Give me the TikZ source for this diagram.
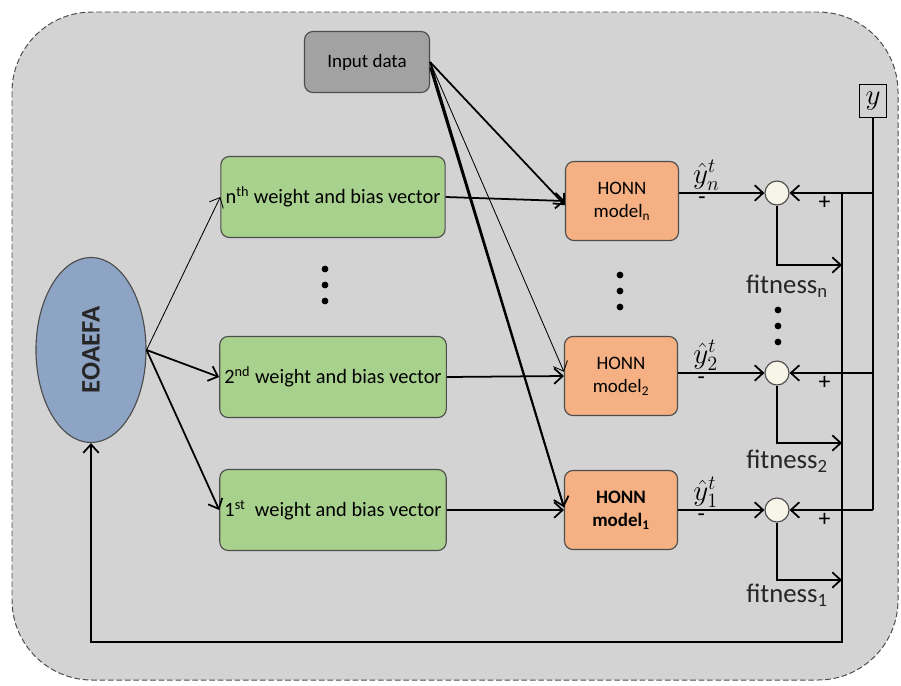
\documentclass[tikz,border=0pt]{standalone}
\usepackage{amsmath,amssymb}
\usepackage{xcolor}
\usepackage{fontspec}
\setmainfont{Carlito}
\usepackage{tikz}
\usetikzlibrary{shapes.geometric,arrows.meta}

\definecolor{panelgray}{RGB}{212,211,212}
\definecolor{boxgreen}{RGB}{169,209,142}
\definecolor{honnorange}{RGB}{245,177,131}
\definecolor{inputgray}{RGB}{162,162,162}
\definecolor{eoblue}{RGB}{142,164,196}
\definecolor{sumwhite}{RGB}{246,245,232}

\tikzset{
  wbox/.style={draw=black!70, line width=0.8pt, rounded corners=6pt, fill=boxgreen,
    minimum width=5.575cm, minimum height=2.025cm, font=\fontsize{14.5}{17}\selectfont},
  honnbox/.style={draw=black!70, line width=0.8pt, rounded corners=6pt, fill=honnorange,
    minimum width=2.825cm, minimum height=1.975cm, align=center,
    font=\fontsize{13.5}{16.5}\selectfont},
  sumnode/.style={circle, draw=black!70, line width=0.8pt, fill=sumwhite,
    minimum size=0.6cm, inner sep=0pt},
  thickarr/.style={-{Straight Barb[length=6pt,width=11pt]}, line width=1.25pt},
  thinarr/.style={-{Straight Barb[length=6pt,width=11pt]}, line width=0.6pt},
  bus/.style={line width=1.25pt},
  fitlabel/.style={font=\fontsize{19}{22}\selectfont, text=black!85},
  signlabel/.style={font=\fontsize{17}{19}\selectfont, inner sep=1pt},
  yhat/.style={font=\fontsize{21}{24}\selectfont, inner sep=1pt}
}

\begin{document}
\begin{tikzpicture}[x=0.025cm, y=-0.025cm]
  \useasboundingbox (0,0) rectangle (901,685);
  % panel
  \draw[dash pattern=on 4pt off 2pt, draw=black!70, line width=0.7pt, fill=panelgray,
    rounded corners=2cm] (12,12) rectangle (898,680);

  % nodes
  \node[ellipse, draw=black!70, line width=0.8pt, fill=eoblue, minimum width=2.75cm,
    minimum height=4.625cm, inner sep=0pt] (eo) at (91,350)
    {\rotatebox{90}{\fontsize{19}{22}\selectfont\bfseries\color{black!85}EOAEFA}};
  \node[draw=black!70, line width=0.8pt, rounded corners=6pt, fill=inputgray,
    minimum width=3.125cm, minimum height=1.525cm, font=\fontsize{13.5}{16}\selectfont]
    (inp) at (367,62) {Input data};

  \node[wbox] (wn) at (333,197) {n\textsuperscript{th} weight and bias vector};
  \node[wbox] (w2) at (333,377) {2\textsuperscript{nd} weight and bias vector};
  \node[wbox] (w1) at (333,510) {1\textsuperscript{st}\ \ weight and bias vector};

  \node[honnbox] (hn) at (622,201) {HONN\\model\textsubscript{n}};
  \node[honnbox] (h2) at (621,376) {HONN\\model\textsubscript{2}};
  \node[honnbox] (h1) at (621,510) {\bfseries HONN\\\bfseries model\textsubscript{1}};

  \node[sumnode] (sn) at (777,193) {};
  \node[sumnode] (s2) at (777,373) {};
  \node[sumnode] (s1) at (777,510) {};

  \node[draw=black, line width=0.8pt, minimum width=0.675cm, minimum height=0.825cm,
    inner sep=0pt, font=\fontsize{20}{22}\selectfont] (yv) at (873,101) {$y$};

  % dots
  \foreach \dy in {269,285,301} \fill (325,\dy) circle (3.4);
  \foreach \dy in {275,291,307} \fill (620,\dy) circle (3.4);
  \foreach \dy in {310,326,342} \fill (778,\dy) circle (3.4);

  % EOAEFA to vectors
  \draw[thinarr] (eo.east) -- (wn.west);
  \draw[thickarr] (eo.east) -- (w2.west);
  \draw[thickarr] (eo.east) -- (w1.west);

  % vectors to models
  \draw[thickarr] (wn.east) -- (hn.west);
  \draw[thickarr] (w2.east) -- (h2.west);
  \draw[thickarr] (w1.east) -- (h1.west);

  % input data to models
  \draw[thickarr] (inp.east) -- ([yshift=-3pt]hn.west);
  \draw[thinarr] (inp.east) -- ([yshift=3pt]h2.west);
  \draw[thickarr] (inp.east) -- ([yshift=2pt]h1.west);
  \draw[bus] ([yshift=-4pt]inp.east) -- ([yshift=2pt]h1.west);

  % model outputs
  \draw[thickarr] (hn.east |- sn) -- node[yhat, pos=0.32, above] {$\hat{y}_n^t$}
    node[signlabel, pos=0.27, below, yshift=-1pt] {-} (sn);
  \draw[thickarr] (h2.east |- s2) -- node[yhat, pos=0.32, above] {$\hat{y}_2^t$}
    node[signlabel, pos=0.27, below, yshift=-1pt] {-} (s2);
  \draw[thickarr] (h1.east |- s1) -- node[yhat, pos=0.32, above] {$\hat{y}_1^t$}
    node[signlabel, pos=0.27, below, yshift=-1pt] {-} (s1);

  % target y
  \draw[bus] (yv.south) -- (yv.south |- s1);
  \draw[thickarr] (yv.south |- sn) -- node[signlabel, pos=0.58, below, yshift=-1pt] {+} (sn);
  \draw[thickarr] (yv.south |- s2) -- node[signlabel, pos=0.58, below, yshift=-1pt] {+} (s2);
  \draw[thickarr] (yv.south |- s1) -- node[signlabel, pos=0.58, below, yshift=-1pt] {+} (s1);

  % fitness and feedback
  \coordinate (fbtop) at (842,193);
  \coordinate (fbbot) at (842,642);
  \coordinate (fitn) at (842,265);
  \coordinate (fit2) at (842,443);
  \coordinate (fit1) at (842,580);
  \draw[thickarr] (sn.south) |- (fitn);
  \draw[thickarr] (s2.south) |- (fit2);
  \draw[thickarr] (s1.south) |- (fit1);
  \node[fitlabel] (fln) at (787,286) {fitness\textsubscript{n}};
  \node[fitlabel] (fl2) at (787,461) {fitness\textsubscript{2}};
  \node[fitlabel] (fl1) at (787,595) {fitness\textsubscript{1}};
  \draw[thickarr] (fbtop) -- (fbbot) -| (eo.south);
\end{tikzpicture}
\end{document}
